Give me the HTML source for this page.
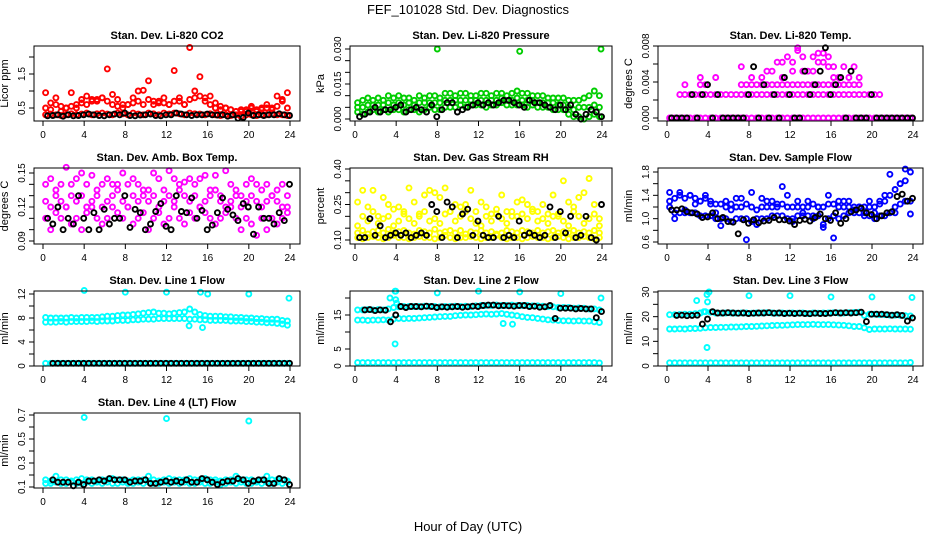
<!DOCTYPE html>
<html><head><meta charset="utf-8"><title>FEF_101028 Std. Dev. Diagnostics</title>
<style>
html,body{margin:0;padding:0;background:#fff;}
svg{display:block;font-family:"Liberation Sans",Arial,sans-serif;}
</style></head>
<body>
<svg id="chart" width="936" height="540" viewBox="0 0 936 540">
<text x="468" y="14" text-anchor="middle" font-size="13">FEF_101028  Std. Dev. Diagnostics</text>
<text x="468" y="531" text-anchor="middle" font-size="13">Hour of Day (UTC)</text>
</svg>
<script>
const hours = [0.25,0.75,1.25,1.75,2.25,2.75,3.25,3.75,4.25,4.75,5.25,5.75,6.25,6.75,7.25,7.75,8.25,8.75,9.25,9.75,10.25,10.75,11.25,11.75,12.25,12.75,13.25,13.75,14.25,14.75,15.25,15.75,16.25,16.75,17.25,17.75,18.25,18.75,19.25,19.75,20.25,20.75,21.25,21.75,22.25,22.75,23.25,23.75];
const xTicks = [0,4,8,12,16,20,24];

// Panel 1: CO2
const co2Base = [0.3,0.32,0.3,0.28,0.3,0.33,0.3,0.32,0.35,0.3,0.33,0.35,0.32,0.3,0.35,0.33,0.3,0.35,0.32,0.3,0.35,0.33,0.3,0.35,0.32,0.35,0.33,0.3,0.35,0.33,0.32,0.3,0.33,0.3,0.28,0.3,0.28,0.3,0.25,0.3,0.3,0.28,0.3,0.3,0.32,0.3,0.3,0.28];
const co2Mid = [0.5,0.45,0.6,0.4,0.5,0.55,0.5,0.65,0.6,0.75,0.7,0.8,0.7,0.6,0.55,0.5,0.6,0.65,0.7,0.6,0.75,0.6,0.7,0.65,0.6,0.7,0.8,0.6,0.75,0.8,0.85,0.7,0.6,0.5,0.45,0.5,0.45,0.4,0.4,0.45,0.5,0.4,0.45,0.5,0.45,0.55,0.7,0.5];
const co2High = [0.95,0.65,0.8,0.55,0.5,0.95,0.6,0.75,0.85,0.7,0.75,0.8,1.65,0.9,0.75,0.6,0.6,0.8,1.0,1.02,1.3,0.7,0.65,0.8,0.6,1.6,0.7,0.6,2.28,1.0,1.42,0.8,0.85,0.65,0.55,0.5,0.45,0.4,0.45,0.4,0.55,0.45,0.5,0.6,0.5,0.85,0.75,0.95];
const co2Black = [0.27,0.28,0.3,0.26,0.3,0.27,0.28,0.3,0.32,0.3,0.28,0.27,0.3,0.32,0.3,0.35,0.28,0.27,0.29,0.3,0.32,0.28,0.27,0.3,0.3,0.35,0.32,0.3,0.28,0.3,0.3,0.32,0.3,0.29,0.3,0.26,0.3,0.2,0.22,0.35,0.28,0.3,0.28,0.3,0.3,0.33,0.3,0.28];

// Panel 2: Pressure
const prLow = [0.003,0.002,0.003,0.004,0.003,0.004,0.003,0.004,0.004,0.003,0.004,0.004,0.003,0.004,0.005,0.004,0.004,0.005,0.005,0.005,0.006,0.005,0.006,0.006,0.006,0.005,0.006,0.006,0.007,0.006,0.006,0.006,0.006,0.005,0.006,0.005,0.005,0.005,0.004,0.004,0.004,0.002,0.001,0.001,0.000,0.001,0.002,0.001];
const prMid = [0.005,0.005,0.006,0.006,0.006,0.006,0.007,0.006,0.007,0.006,0.007,0.006,0.007,0.007,0.007,0.007,0.007,0.008,0.008,0.008,0.008,0.008,0.008,0.008,0.008,0.008,0.008,0.008,0.009,0.008,0.008,0.009,0.008,0.008,0.008,0.007,0.007,0.007,0.007,0.006,0.006,0.005,0.004,0.005,0.005,0.005,0.006,0.005];
const prHigh = [0.007,0.008,0.009,0.008,0.009,0.008,0.010,0.009,0.010,0.009,0.009,0.008,0.010,0.009,0.010,0.010,0.009,0.011,0.011,0.010,0.011,0.011,0.010,0.010,0.011,0.011,0.010,0.011,0.011,0.010,0.011,0.012,0.011,0.011,0.010,0.010,0.010,0.009,0.009,0.009,0.009,0.008,0.008,0.008,0.009,0.010,0.012,0.010];
const prBlack = [0.001,0.002,0.003,0.005,0.003,0.004,0.004,0.005,0.006,0.003,0.004,0.005,0.004,0.003,0.006,0.001,0.004,0.007,0.007,0.003,0.004,0.005,0.006,0.007,0.006,0.007,0.006,0.007,0.008,0.008,0.007,0.006,0.005,0.008,0.007,0.007,0.006,0.005,0.004,0.006,0.004,0.006,0.002,0.000,0.002,0.004,0.003,0.001];
const prOutT = [8,16,23.9];
const prOutV = [0.030,0.029,0.030];

// Panel 3: Li-820 Temp
const tempZero = [0,0,0,0,0,0,0,0,0,0,0,0,0,0,0,0,0,0,0,0,0,0,0,0,0,0,0,0,0,0,0,0,0,0,0,0,0,0,0,0,0,0,0,0,0,0,0,0];
const tempLow = [null,null,0.0026,0.0026,0.0026,0.0026,0.0026,0.0026,0.0026,0.0026,0.0026,0.0026,0.0026,0.0026,0.0026,0.0026,0.0026,0.0026,0.0026,0.0026,0.0026,0.0026,0.0026,0.0026,0.0026,0.0026,0.0026,0.0026,0.0026,0.0026,0.0026,0.0026,0.0026,0.0026,0.0026,0.0026,0.0026,0.0026,0.0026,0.0026,0.0026,0.0026,null,null,null,null,null,null];
const tempMid = [null,null,null,0.0037,null,null,0.0037,0.0037,null,null,null,null,null,null,0.0037,0.0037,0.0037,0.0037,0.0037,0.0037,0.0037,0.0037,0.0037,0.0037,0.0037,0.0037,0.0037,0.0037,0.0037,0.0037,0.0037,0.0037,0.0037,0.0037,0.0037,0.0037,0.0037,0.0037,null,null,null,null,null,null,null,null,null,null];
const tempHigh = [null,null,null,null,null,null,0.0045,null,null,0.0045,null,null,null,null,0.0057,null,0.0045,null,0.0045,0.0052,0.0052,0.0062,0.0062,0.0068,0.0062,0.0078,0.0068,0.0052,0.0068,0.0072,0.0062,0.0068,0.0057,0.0045,0.0057,0.0045,0.0057,0.0045,null,null,null,null,null,null,null,null,null,null];
const tempHigh2 = [null,null,null,null,null,null,null,null,null,null,null,null,null,null,null,null,null,null,null,null,null,null,0.0045,null,0.0052,0.0075,0.0052,null,0.0052,0.0062,0.0072,0.0057,0.0045,null,null,null,null,null,null,null,null,null,null,null,null,null,null,null];
const tempBlack = [0,0,0,0,0.0026,0,0.0026,0.0037,0,0.0026,0,0,0,0,0,0.0026,0.0057,0,0.0037,0,0.0026,0,0.0045,0.0026,0,0,0.0052,0.0026,0.0037,0.0052,0.0078,0.0026,0.0037,0.0045,0,0.0052,0,0,0,0.0026,0,0,0,0,0,0,0,0];

// Panel 4: Amb. Box Temp
const ambA = [0.11,0.10,0.115,0.11,0.12,0.105,0.11,0.10,0.115,0.12,0.11,0.105,0.11,0.12,0.115,0.11,0.12,0.105,0.11,0.115,0.10,0.11,0.115,0.105,0.11,0.12,0.11,0.105,0.115,0.11,0.12,0.115,0.11,0.105,0.11,0.115,0.12,0.11,0.10,0.11,0.105,0.095,0.11,0.10,0.11,0.105,0.11,0.115];
const ambB = [0.125,0.12,0.13,0.125,0.12,0.13,0.125,0.13,0.12,0.125,0.13,0.12,0.125,0.13,0.135,0.125,0.12,0.13,0.125,0.135,0.125,0.13,0.12,0.125,0.13,0.125,0.135,0.13,0.125,0.13,0.12,0.125,0.13,0.135,0.125,0.12,0.125,0.13,0.12,0.125,0.13,0.125,0.12,0.125,0.13,0.125,0.12,0.12];
const ambC = [0.14,0.145,0.135,0.14,0.155,0.14,0.145,0.15,0.14,0.148,0.135,0.14,0.145,0.14,0.14,0.15,0.14,0.145,0.14,0.13,0.135,0.15,0.145,0.135,0.152,0.145,0.14,0.142,0.145,0.14,0.145,0.148,0.135,0.148,0.13,0.152,0.14,0.135,0.13,0.14,0.145,0.14,0.135,0.14,0.13,0.135,0.14,0.13];
const ambBlack = [0.11,0.105,0.12,0.1,0.11,0.105,0.13,0.11,0.1,0.115,0.1,0.118,0.105,0.11,0.11,0.13,0.102,0.118,0.115,0.1,0.105,0.116,0.123,0.103,0.1,0.13,0.116,0.115,0.128,0.11,0.117,0.1,0.104,0.115,0.128,0.118,0.113,0.108,0.123,0.12,0.096,0.12,0.11,0.11,0.105,0.115,0.108,0.14];

// Panel 5: Gas Stream RH
const rhA = [0.11,0.105,0.11,0.115,0.11,0.105,0.11,0.12,0.11,0.11,0.105,0.11,0.115,0.11,0.11,0.105,0.11,0.12,0.11,0.105,0.11,0.11,0.115,0.11,0.105,0.11,0.11,0.12,0.11,0.105,0.11,0.11,0.105,0.11,0.115,0.11,0.11,0.105,0.11,0.115,0.11,0.105,0.11,0.11,0.115,0.11,0.105,0.11];
const rhB = [0.13,0.14,0.125,0.135,0.14,0.13,0.145,0.13,0.135,0.14,0.13,0.125,0.14,0.135,0.13,0.145,0.13,0.135,0.14,0.13,0.14,0.125,0.135,0.13,0.14,0.13,0.135,0.125,0.13,0.14,0.135,0.13,0.14,0.135,0.13,0.14,0.13,0.135,0.14,0.13,0.135,0.13,0.14,0.13,0.135,0.13,0.14,0.13];
const rhC = [0.26,0.31,0.24,0.31,0.2,0.28,0.25,0.23,0.24,0.22,0.32,0.26,0.21,0.29,0.31,0.3,0.28,0.32,0.22,0.25,0.24,0.25,0.31,0.22,0.26,0.24,0.21,0.23,0.29,0.22,0.2,0.26,0.27,0.25,0.23,0.22,0.25,0.21,0.29,0.2,0.35,0.26,0.24,0.28,0.3,0.36,0.25,0.19];
const rhD = [0.16,0.2,0.18,0.22,0.17,0.19,0.2,0.16,0.18,0.21,0.19,0.17,0.2,0.22,0.18,0.19,0.17,0.21,0.22,0.18,0.2,0.22,0.19,0.17,0.16,0.2,0.18,0.21,0.19,0.17,0.22,0.2,0.21,0.19,0.22,0.18,0.19,0.17,0.2,0.21,0.18,0.16,0.22,0.2,0.17,0.19,0.21,0.16];
const rhBlack = [0.11,0.11,0.19,0.12,0.16,0.11,0.12,0.13,0.12,0.13,0.11,0.12,0.13,0.12,0.25,0.22,0.11,0.26,0.24,0.11,0.21,0.23,0.12,0.18,0.12,0.11,0.11,0.2,0.11,0.12,0.11,0.18,0.12,0.13,0.12,0.11,0.12,0.24,0.11,0.22,0.13,0.2,0.11,0.12,0.2,0.11,0.1,0.25];

// Panel 6: Sample Flow
const sfA = [1.2,1.1,1.1,1.15,1.1,1.1,1.05,1.05,1.05,1.0,1.0,1.0,0.95,1.0,1.0,1.0,0.95,1.0,1.0,1.0,1.05,1.05,1.05,1.0,1.0,1.05,1.05,1.05,1.05,1.05,0.9,1.0,1.05,1.0,1.05,1.1,1.1,1.1,1.05,1.05,1.0,1.05,1.05,1.1,1.2,1.25,1.3,1.3];
const sfB = [1.3,1.35,1.4,1.35,1.4,1.35,1.3,1.35,1.3,1.25,1.25,1.2,1.25,1.2,1.2,1.25,1.2,1.15,1.2,1.2,1.2,1.2,1.25,1.2,1.2,1.2,1.2,1.2,1.25,1.2,1.2,1.25,1.25,1.2,1.2,1.2,1.2,1.2,1.2,1.2,1.2,1.25,1.3,1.4,1.5,1.6,1.65,1.8];
const sfC = [1.45,1.0,1.45,1.1,1.4,1.25,1.3,1.4,1.25,1.1,0.88,1.3,1.15,1.35,1.35,0.64,1.45,0.9,1.35,1.3,1.3,1.25,1.55,1.4,0.95,1.3,1.1,1.3,1.0,1.2,0.85,1.4,0.67,1.3,1.3,1.3,1.15,1.2,1.1,1.3,1.1,1.3,1.4,1.76,1.1,1.6,1.85,1.08];
const sfBlack = [1.15,1.15,1.17,1.12,1.1,1.08,1.02,1.03,1.1,1.0,1.02,0.95,0.94,0.74,0.98,0.92,0.98,0.93,0.96,0.97,1.02,0.98,0.98,0.96,0.9,0.97,0.99,0.96,1.02,1.08,1.0,0.97,1.1,0.92,1.0,1.12,1.15,1.18,1.1,1.07,1.0,1.05,1.1,1.12,1.38,1.42,1.3,1.35];

// Panel 7: Line 1 Flow
const l1A = [7.3,7.3,7.3,7.4,7.3,7.4,7.4,7.4,7.4,7.5,7.4,7.5,7.5,7.5,7.6,7.6,7.6,7.7,7.7,7.8,7.8,7.8,7.9,7.9,7.9,7.9,7.9,7.9,7.8,7.8,7.7,7.7,7.6,7.6,7.6,7.6,7.5,7.5,7.5,7.4,7.4,7.3,7.3,7.2,7.2,7.1,7.0,6.8];
const l1B = [8.1,8.0,8.0,8.0,8.0,8.1,8.0,8.1,8.1,8.1,8.1,8.2,8.3,8.3,8.4,8.5,8.5,8.6,8.7,8.8,8.9,9.0,8.8,8.8,8.7,8.8,8.9,9.0,9.5,9.0,8.6,8.4,8.3,8.3,8.3,8.2,8.2,8.1,8.1,8.0,8.0,7.9,7.9,7.8,7.8,7.8,7.6,7.5];
const l1Zero = [0.45,0.45,0.45,0.45,0.45,0.45,0.45,0.45,0.45,0.45,0.45,0.45,0.45,0.45,0.45,0.45,0.45,0.45,0.45,0.45,0.45,0.45,0.45,0.45,0.45,0.45,0.45,0.45,0.45,0.45,0.45,0.45,0.45,0.45,0.45,0.45,0.45,0.45,0.45,0.45,0.45,0.45,0.45,0.45,0.45,0.45,0.45,0.45];
const l1Black = [null,0.45,0.45,0.45,0.45,0.45,0.45,0.45,0.45,0.45,0.45,0.45,0.45,0.45,0.45,0.45,0.45,0.45,0.45,0.45,0.45,0.45,0.45,0.45,0.45,0.45,0.45,0.45,0.45,0.45,0.45,0.45,0.45,0.45,0.45,0.45,0.45,0.45,0.45,0.45,0.45,0.45,0.45,0.45,0.45,0.45,0.45,0.45];
const l1OutT = [4,8,12,14.2,15.3,15.5,16,20,23.9];
const l1OutV = [12.6,12.3,12.3,6.7,12.3,6.4,12.0,12.0,11.3];

// Panel 8: Line 2 Flow
const l2Low = [13.5,13.5,13.4,13.5,13.5,13.6,13.5,13.8,14.0,13.9,14.0,14.0,14.1,14.2,14.3,14.4,14.5,14.6,14.6,14.8,14.9,15.0,15.0,15.1,15.2,15.3,15.2,15.3,15.4,15.2,15.0,14.8,14.5,14.3,14.2,14.0,13.8,13.6,13.5,13.4,13.3,13.3,13.2,13.3,13.2,13.2,13.0,12.8];
const l2High = [16.5,16.5,16.6,16.5,16.6,16.5,16.8,17.2,17.4,17.5,17.5,17.5,17.5,17.6,17.5,17.5,17.4,17.5,17.5,17.6,17.5,17.6,17.5,17.7,17.8,17.8,17.8,17.9,17.8,17.8,17.9,17.8,17.8,17.8,17.7,17.7,17.6,17.5,17.4,17.2,17.2,17.2,17.0,17.1,17.0,16.8,16.8,16.5];
const l2Zero = [1.0,1.0,1.0,1.0,1.0,1.0,1.0,1.0,1.0,1.0,1.0,1.0,1.0,1.0,1.0,1.0,1.0,1.0,1.0,1.0,1.0,1.0,1.0,1.0,1.0,1.0,1.0,1.0,1.0,1.0,1.0,1.0,1.0,1.0,1.0,1.0,1.0,1.0,1.0,1.0,1.0,1.0,1.0,1.0,1.0,1.0,1.0,0.9];
const l2Black = [null,16.5,16.6,16.3,16.5,16.4,13.0,15.0,17.5,17.2,17.5,17.5,17.4,17.6,17.5,17.2,17.4,17.3,17.4,17.5,17.3,17.4,17.6,17.5,17.8,17.9,17.9,17.7,17.8,17.7,17.6,17.8,17.8,17.5,17.6,17.3,17.4,17.8,14.0,17.0,17.0,17.0,16.8,16.9,16.8,16.8,14.2,16.0];
const l2OutT = [3.4,3.9,3.95,4.05,8,12,14.4,15.3,16,20,23.9,3.9,3.95];
const l2OutV = [20.0,22.0,19.5,18.5,21.5,22.0,12.5,12.3,21.8,21.3,20.0,6.5,22.0];

// Panel 9: Line 3 Flow
const l3Low = [15.0,15.0,15.1,15.0,15.2,15.2,15.3,15.5,15.6,15.6,15.7,15.7,15.8,15.8,15.9,16.0,16.0,16.1,16.2,16.3,16.4,16.5,16.5,16.6,16.7,16.8,16.8,16.8,16.9,16.8,16.8,16.8,16.7,16.6,16.5,16.3,16.0,16.0,15.5,14.8,15.0,15.0,15.0,15.1,15.0,15.0,15.0,14.9];
const l3High = [20.8,20.8,20.9,21.0,21.0,21.2,21.5,22.0,21.8,21.5,21.4,21.5,21.5,21.4,21.5,21.5,21.4,21.5,21.5,21.6,21.5,21.4,21.5,21.4,21.5,21.4,21.5,21.3,21.5,21.4,21.5,21.5,21.6,21.5,21.5,21.6,21.7,21.8,20.5,21.0,21.0,20.8,20.8,20.6,20.6,20.5,20.4,20.3];
const l3Zero = [1.3,1.3,1.3,1.3,1.3,1.3,1.3,1.3,1.3,1.3,1.3,1.3,1.3,1.3,1.3,1.3,1.3,1.3,1.3,1.3,1.3,1.3,1.3,1.3,1.3,1.3,1.3,1.3,1.3,1.3,1.3,1.3,1.3,1.3,1.3,1.3,1.3,1.3,1.3,1.3,1.3,1.3,1.3,1.3,1.3,1.3,1.3,1.4];
const l3Black = [null,20.5,20.6,20.4,20.5,20.6,17.0,19.0,22.0,21.5,21.5,21.6,21.5,21.4,21.5,21.3,21.4,21.5,21.5,21.6,21.4,21.5,21.3,21.4,21.3,21.4,21.3,21.2,21.4,21.3,21.3,21.4,21.6,21.5,21.6,21.5,21.6,21.8,18.0,21.0,21.0,21.0,20.8,20.6,20.8,20.5,18.2,19.5];
const l3OutT = [2.9,3.9,3.95,3.9,4.1,8,12,16,20,23.9,3.6];
const l3OutV = [26.5,29.0,26.0,7.5,30.0,28.5,28.5,28.0,28.0,27.8,22.0];

// Panel 10: Line 4 (LT) Flow
const l4A = [0.13,0.13,0.14,0.13,0.13,0.14,0.13,0.13,0.14,0.13,0.14,0.13,0.14,0.13,0.13,0.14,0.13,0.13,0.14,0.13,0.14,0.13,0.13,0.14,0.13,0.14,0.13,0.14,0.13,0.13,0.14,0.13,0.13,0.14,0.12,0.13,0.14,0.13,0.14,0.13,0.13,0.14,0.13,0.14,0.13,0.14,0.13,0.14];
const l4B = [0.16,0.15,0.19,0.16,0.16,0.15,0.16,0.17,0.16,0.16,0.15,0.16,0.16,0.17,0.16,0.16,0.15,0.16,0.16,0.16,0.19,0.16,0.15,0.16,0.17,0.16,0.16,0.16,0.17,0.16,0.16,0.17,0.16,0.16,0.15,0.16,0.16,0.19,0.16,0.16,0.16,0.15,0.16,0.19,0.16,0.16,0.16,0.15];
const l4Black = [null,0.16,0.14,0.14,0.14,0.11,0.14,0.12,0.15,0.15,0.16,0.15,0.17,0.16,0.16,0.16,0.14,0.15,0.15,0.16,0.13,0.13,0.14,0.15,0.14,0.15,0.14,0.16,0.14,0.14,0.17,0.16,0.14,0.12,0.14,0.15,0.15,0.17,0.16,0.13,0.15,0.16,0.16,0.13,0.13,0.17,0.16,0.12];
const l4OutT = [4,12,20];
const l4OutV = [0.68,0.67,0.65];

const cols = [{l:34,r:300,x0:43,x24:290},{l:350,r:612,x0:355,x24:602},{l:658,r:923,x0:667,x24:913}];
const rows = [{t:46,b:121},{t:168,b:244},{t:291,b:366},{t:413,b:488}];

const panels = [
 {id:'co2',title:'Stan. Dev. Li-820 CO2',ylab:'Licor ppm',c:0,r:0,ref:[0.5,108,1.5,74],ticks:[0.5,1,1.5,2],labels:['0.5','','1.5',''],
  series:[[co2Base,'#ff0000'],[co2Mid,'#ff0000'],[co2High,'#ff0000'],[co2Black,'#000000']]},
 {id:'pressure',title:'Stan. Dev. Li-820 Pressure',ylab:'kPa',c:1,r:0,ref:[0,119,0.03,49],ticks:[0,0.005,0.01,0.015,0.02,0.025,0.03],labels:['0.000','','','0.015','','','0.030'],
  series:[[prLow,'#00cd00'],[prMid,'#00cd00'],[prHigh,'#00cd00'],[prBlack,'#000000']],outT:prOutT,outV:prOutV,outC:'#00cd00'},
 {id:'li820-temp',title:'Stan. Dev. Li-820 Temp.',ylab:'degrees C',c:2,r:0,ref:[0,118,0.008,46],ticks:[0,0.002,0.004,0.006,0.008],labels:['0.000','','0.004','','0.008'],
  series:[[tempZero,'#ff00ff'],[tempLow,'#ff00ff'],[tempMid,'#ff00ff'],[tempHigh,'#ff00ff'],[tempHigh2,'#ff00ff'],[tempBlack,'#000000']]},
 {id:'amb-box-temp',title:'Stan. Dev. Amb. Box Temp.',ylab:'degrees C',c:0,r:1,ref:[0.09,241,0.15,173],ticks:[0.09,0.10,0.11,0.12,0.13,0.14,0.15],labels:['0.09','','','0.12','','','0.15'],
  series:[[ambA,'#ff00ff'],[ambB,'#ff00ff'],[ambC,'#ff00ff'],[ambBlack,'#000000']]},
 {id:'gas-rh',title:'Stan. Dev. Gas Stream RH',ylab:'percent',c:1,r:1,ref:[0.10,240,0.40,169],ticks:[0.10,0.15,0.20,0.25,0.30,0.35,0.40],labels:['0.10','','','0.25','','','0.40'],
  series:[[rhA,'#ffff00'],[rhB,'#ffff00'],[rhD,'#ffff00'],[rhC,'#ffff00'],[rhBlack,'#000000']]},
 {id:'sample-flow',title:'Stan. Dev. Sample Flow',ylab:'ml/min',c:2,r:1,ref:[0.6,242,1.8,172],ticks:[0.6,0.8,1.0,1.2,1.4,1.6,1.8],labels:['0.6','','1.0','','1.4','','1.8'],
  series:[[sfA,'#0000ff'],[sfB,'#0000ff'],[sfC,'#0000ff'],[sfBlack,'#000000']]},
 {id:'line1-flow',title:'Stan. Dev. Line 1 Flow',ylab:'ml/min',c:0,r:2,ref:[0,366,12,294],ticks:[0,2,4,6,8,10,12],labels:['0','','4','','8','','12'],
  series:[[l1A,'#00ffff'],[l1B,'#00ffff'],[l1Zero,'#00ffff'],[l1Black,'#000000']],outT:l1OutT,outV:l1OutV,outC:'#00ffff'},
 {id:'line2-flow',title:'Stan. Dev. Line 2 Flow',ylab:'ml/min',c:1,r:2,ref:[0,366,15,315],ticks:[0,5,10,15,20],labels:['0','5','','15',''],
  series:[[l2Low,'#00ffff'],[l2High,'#00ffff'],[l2Zero,'#00ffff'],[l2Black,'#000000']],outT:l2OutT,outV:l2OutV,outC:'#00ffff'},
 {id:'line3-flow',title:'Stan. Dev. Line 3 Flow',ylab:'ml/min',c:2,r:2,ref:[0,366,30,292],ticks:[0,5,10,15,20,25,30],labels:['0','','10','','20','','30'],
  series:[[l3Low,'#00ffff'],[l3High,'#00ffff'],[l3Zero,'#00ffff'],[l3Black,'#000000']],outT:l3OutT,outV:l3OutV,outC:'#00ffff'},
 {id:'line4-flow',title:'Stan. Dev. Line 4 (LT) Flow',ylab:'ml/min',c:0,r:3,ref:[0.1,487,0.7,415],ticks:[0.1,0.2,0.3,0.4,0.5,0.6,0.7],labels:['0.1','','0.3','','0.5','','0.7'],
  series:[[l4A,'#00ffff'],[l4B,'#00ffff'],[l4Black,'#000000']],outT:l4OutT,outV:l4OutV,outC:'#00ffff'}
];

const NS='http://www.w3.org/2000/svg';
const svg=document.getElementById('chart');
function mk(tag,attrs,parent){const e=document.createElementNS(NS,tag);for(const k in attrs)e.setAttribute(k,attrs[k]);parent.appendChild(e);return e;}

panels.forEach(p=>{
  const C=cols[p.c],R=rows[p.r];
  const xs=h=>C.x0+(C.x24-C.x0)*h/24;
  const ys=v=>p.ref[1]+(v-p.ref[0])*(p.ref[3]-p.ref[1])/(p.ref[2]-p.ref[0]);
  const g=mk('g',{},svg);
  
  
  const t=mk('text',{x:(C.l+C.r)/2,y:R.t-7,'text-anchor':'middle','font-size':'11','font-weight':'bold'},g);
  t.textContent=p.title;
  
  
  const yl=mk('text',{x:0,y:0,'text-anchor':'middle','font-size':'11',transform:`translate(${C.l-26},${(R.t+R.b)/2}) rotate(-90)`},g);
  yl.textContent=p.ylab;
  
  
  const pg=mk('g',{fill:'none','stroke-width':'1.9'},g);
  
  
  function dot(h,v,col){
    if(v===null||v===undefined)return;
    const c=mk('circle',{cx:xs(h).toFixed(1),cy:ys(v).toFixed(1),r:'2.5',stroke:col},pg);
    
    
  }
  p.series.forEach(([vals,col])=>{ if(col!=='#000000') vals.forEach((v,i)=>dot(hours[i],v,col)); });
  if(p.outT) p.outT.forEach((h,i)=>dot(h,p.outV[i],p.outC));
  p.series.forEach(([vals,col])=>{ if(col==='#000000') vals.forEach((v,i)=>dot(hours[i]+0.2,v,col)); });
  const box=mk('rect',{x:C.l,y:R.t,width:C.r-C.l,height:R.b-R.t,fill:'none',stroke:'#000','stroke-width':'1'},g);
  
  
  const xa=mk('g',{},g);
  
  
  mk('line',{x1:xs(0),x2:xs(24),y1:R.b,y2:R.b,stroke:'#000'},xa);
  xTicks.forEach(h=>{
    mk('line',{x1:xs(h),x2:xs(h),y1:R.b,y2:R.b+5,stroke:'#000'},xa);
    const tl=mk('text',{x:xs(h),y:R.b+17,'text-anchor':'middle','font-size':'10'},xa);
    tl.textContent=h;
  });
  const ya=mk('g',{},g);
  
  
  mk('line',{x1:C.l,x2:C.l,y1:ys(p.ticks[0]),y2:ys(p.ticks[p.ticks.length-1]),stroke:'#000'},ya);
  p.ticks.forEach((v,i)=>{
    const y=ys(v);
    mk('line',{x1:C.l-5,x2:C.l,y1:y,y2:y,stroke:'#000'},ya);
    if(p.labels[i]){
      const tl=mk('text',{x:0,y:0,'text-anchor':'middle','font-size':'10',transform:`translate(${C.l-9},${y}) rotate(-90)`},ya);
      tl.textContent=p.labels[i];
    }
  });
});
</script>
</body></html>
